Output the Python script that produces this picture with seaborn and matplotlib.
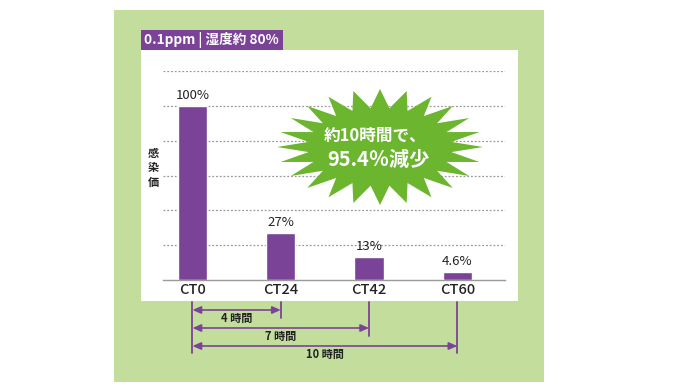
import numpy as np
import matplotlib
matplotlib.use("Agg")
import matplotlib.pyplot as plt
import matplotlib.transforms as mtransforms
from matplotlib.patches import Rectangle, Polygon
import pandas as pd
import seaborn as sns

# データ
categories = ["CT0", "CT24", "CT42", "CT60"]
values = [100, 27, 13, 4.6]
value_labels = ["100%", "27%", "13%", "4.6%"]
span_ends = [1, 2, 3]
span_labels = ["4 時間", "7 時間", "10 時間"]
header_text = "0.1ppm | 湿度約 80%"
burst_lines = ["約10時間で、", "95.4％減少"]
y_label = "感染価"

PURPLE = "#7b4397"
GREEN_BG = "#c3dd9c"
GREEN_BURST = "#6cb52f"
TEXT = "#222222"

W, H = 680, 390

sns.set_theme(style="white")
plt.rcParams["font.family"] = ["Noto Sans CJK JP", "DejaVu Sans"]


def fx(x):
    return x / W


def fy(y):
    return 1 - y / H


fig = plt.figure(figsize=(6.8, 3.9), dpi=100, facecolor="white")

# 背景パネル
fig.patches.append(Rectangle((fx(114), fy(382)), fx(544) - fx(114), fy(10) - fy(382),
                             transform=fig.transFigure, facecolor=GREEN_BG,
                             edgecolor="none", zorder=-2))
fig.patches.append(Rectangle((fx(141), fy(301)), fx(518) - fx(141), fy(50) - fy(301),
                             transform=fig.transFigure, facecolor="white",
                             edgecolor="none", zorder=-1))
fig.patches.append(Rectangle((fx(141), fy(50)), fx(283) - fx(141), fy(30) - fy(50),
                             transform=fig.transFigure, facecolor=PURPLE,
                             edgecolor="none", zorder=-1))
fig.text(fx(144), fy(40), header_text, color="white", fontsize=9.8, fontweight="bold",
         ha="left", va="center")

ax = fig.add_axes([fx(163), fy(280), fx(505) - fx(163), fy(71) - fy(280)])
ax.patch.set_alpha(0)

df = pd.DataFrame({"category": categories, "value": values})
sns.barplot(data=df, x="category", y="value", color=PURPLE, saturation=1,
            width=0.33, ax=ax, zorder=2)

ax.set_ylim(0, 120)
ax.set_xlim(-0.334, 3.54)
ax.set_yticks(np.arange(20, 121, 20))
ax.yaxis.grid(True, color="#9a9a9a", linestyle=(0, (1.5, 1.5)), linewidth=0.9)
ax.set_axisbelow(True)
ax.set_yticklabels([])
ax.tick_params(axis="both", length=0)
ax.tick_params(axis="x", pad=2, labelsize=10.5, labelcolor=TEXT)
for lab in ax.get_xticklabels():
    lab.set_fontweight("medium")
for side in ["left", "right", "top"]:
    ax.spines[side].set_visible(False)
ax.spines["bottom"].set_color("#9a9a9a")
ax.spines["bottom"].set_linewidth(1.0)
ax.set_xlabel("")
ax.set_ylabel("")

ax.bar_label(ax.containers[0], labels=value_labels, padding=3, fontsize=9.5, color=TEXT)

fig.text(fx(153), fy(168), "\n".join(y_label), fontsize=8, color=TEXT,
         ha="center", va="center", linespacing=1.12, fontweight="bold")

# 星形の吹き出し
n_spikes = 24
cx, cy = 380, 147
theta = np.linspace(0, 2 * np.pi, 2 * n_spikes, endpoint=False) + np.pi / 2
rx = np.where(np.arange(2 * n_spikes) % 2 == 0, 103, 72)
ry = np.where(np.arange(2 * n_spikes) % 2 == 0, 58, 39)
px = cx + rx * np.cos(theta)
py = cy - ry * np.sin(theta)
burst = Polygon(np.column_stack([fx(px), fy(py)]), closed=True,
                transform=fig.transFigure, facecolor=GREEN_BURST,
                edgecolor="none", zorder=3, clip_on=False)
ax.add_patch(burst)
ax.text(fx(375), fy(136), burst_lines[0], transform=fig.transFigure, color="white",
        fontsize=12, fontweight="bold", ha="center", va="center", zorder=4)
ax.text(fx(378), fy(159), burst_lines[1], transform=fig.transFigure, color="white",
        fontsize=14.5, fontweight="bold", ha="center", va="center", zorder=4)

# 経過時間の矢印
trans = mtransforms.blended_transform_factory(ax.transData, fig.transFigure)
ax.plot([0, 0], [fy(302), fy(353)], color=PURPLE, lw=1.3, transform=trans, clip_on=False)
end_bottoms = [318, 336, 353]
arrow_ys = [310, 328, 346]
label_ys = [318, 336, 354]
for end, lab, yb, ya, yl in zip(span_ends, span_labels, end_bottoms, arrow_ys, label_ys):
    ax.plot([end, end], [fy(302), fy(yb)], color=PURPLE, lw=1.3,
            transform=trans, clip_on=False)
    ax.annotate("", xy=(end, fy(ya)), xytext=(0, fy(ya)), xycoords=trans,
                textcoords=trans, annotation_clip=False,
                arrowprops=dict(arrowstyle="<|-|>,head_length=0.5,head_width=0.22",
                                color=PURPLE, lw=1.2, shrinkA=0, shrinkB=0,
                                mutation_scale=10))
    ax.text(end / 2, fy(yl), lab, transform=trans, fontsize=8, fontweight="bold",
            color=TEXT, ha="center", va="center")

fig.savefig("out.png", dpi=100, facecolor="white")
